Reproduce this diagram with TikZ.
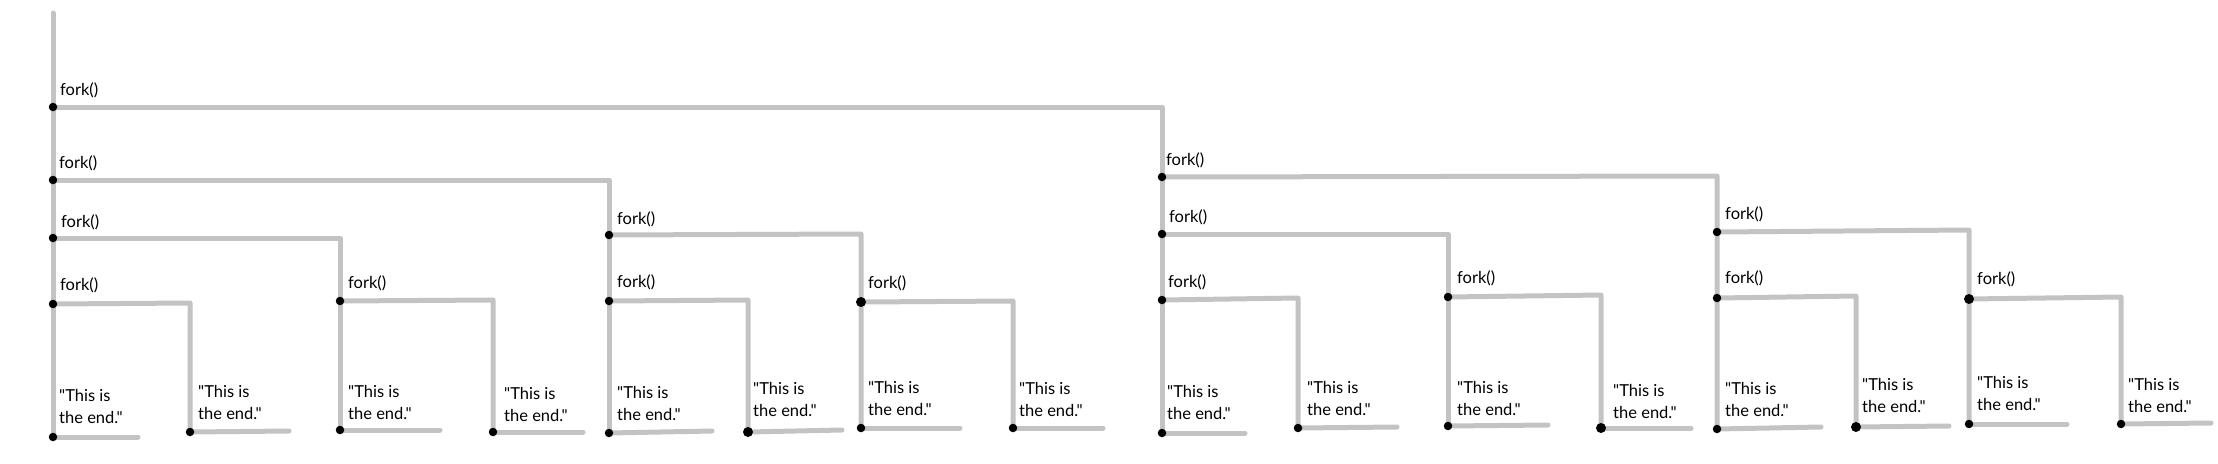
\documentclass[tikz,border=0pt]{standalone}
\usepackage{fontspec}
\setmainfont{Lato}[Ligatures=TeXOff]
\definecolor{wireg}{HTML}{C3C3C3}
\begin{document}
\begin{tikzpicture}[x=1pt,y=-1pt,
  wire/.style={draw=wireg, line width=5pt, line cap=round, line join=round},
  dot/.style={circle, fill=black, inner sep=0pt, minimum size=8.5pt},
  bigdot/.style={circle, fill=black, inner sep=0pt, minimum size=10pt},
  lbl/.style={anchor=west, inner sep=0pt, text=black, font=\fontsize{16.5}{22}\selectfont},
  endtxt/.style={lbl, align=left}]
\useasboundingbox (0,0) rectangle (2218,463);
% ---------- coordinates ----------
\coordinate (top) at (53,13);
\coordinate (f1) at (53,107);   \coordinate (c1) at (1162,107);
\coordinate (f2) at (53,180);   \coordinate (c2) at (609,180);
\coordinate (f3) at (53,238);   \coordinate (c3) at (340,238);
\coordinate (f4) at (53,304);   \coordinate (c4) at (190,303);
\coordinate (e1) at (53,437);   \coordinate (t1) at (138,437);
\coordinate (e2) at (190,432);  \coordinate (t2) at (289,431);
\coordinate (f5) at (340,301);  \coordinate (c5) at (493,300);
\coordinate (e3) at (340,430);  \coordinate (t3) at (440,430);
\coordinate (e4) at (493,432);  \coordinate (t4) at (583,432);
\coordinate (f6) at (609,235);  \coordinate (c6) at (861,234);
\coordinate (f7) at (609,301);  \coordinate (c7) at (748,300);
\coordinate (e5) at (609,433);  \coordinate (t5) at (712,431);
\coordinate (e6) at (748,432);  \coordinate (t6) at (842,430);
\coordinate (f8) at (861,302);  \coordinate (c8) at (1013,301);
\coordinate (e7) at (861,428);  \coordinate (t7) at (960,428);
\coordinate (e8) at (1013,428); \coordinate (t8) at (1103,428);
\coordinate (f9) at (1162,177); \coordinate (c9) at (1717,176);
\coordinate (f10) at (1162,234);\coordinate (c10) at (1448,234);
\coordinate (f11) at (1162,300);\coordinate (c11) at (1298,298);
\coordinate (e9) at (1162,433); \coordinate (t9) at (1245,433);
\coordinate (e10) at (1298,428);\coordinate (t10) at (1397,427);
\coordinate (f12) at (1448,297);\coordinate (c12) at (1601,295);
\coordinate (e11) at (1448,426);\coordinate (t11) at (1548,425);
\coordinate (e12) at (1601,428);\coordinate (t12) at (1691,428);
\coordinate (f13) at (1717,232);\coordinate (c13) at (1969,230);
\coordinate (f14) at (1717,298);\coordinate (c14) at (1856,296);
\coordinate (e13) at (1717,429);\coordinate (t13) at (1821,427);
\coordinate (e14) at (1856,427);\coordinate (t14) at (1949,426);
\coordinate (f15) at (1969,299);\coordinate (c15) at (2121,297);
\coordinate (e15) at (1969,424);\coordinate (t15) at (2067,424);
\coordinate (e16) at (2121,424);\coordinate (t16) at (2211,423);
% ---------- wires ----------
\draw[wire] (top) -- (e1);
\draw[wire] (f1) -- (c1) -- (e9);
\draw[wire] (f2) -- (c2) -- (e5);
\draw[wire] (f3) -- (c3) -- (e3);
\draw[wire] (f4) -- (c4) -- (e2);
\draw[wire] (f5) -- (c5) -- (e4);
\draw[wire] (f6) -- (c6) -- (e7);
\draw[wire] (f7) -- (c7) -- (e6);
\draw[wire] (f8) -- (c8) -- (e8);
\draw[wire] (f9) -- (c9) -- (e13);
\draw[wire] (f10) -- (c10) -- (e11);
\draw[wire] (f11) -- (c11) -- (e10);
\draw[wire] (f12) -- (c12) -- (e12);
\draw[wire] (f13) -- (c13) -- (e15);
\draw[wire] (f14) -- (c14) -- (e14);
\draw[wire] (f15) -- (c15) -- (e16);
\foreach \i in {1,...,16} { \draw[wire] (e\i) -- (t\i); }
% ---------- dots ----------
\foreach \p in {f1,f2,f3,f4,f5,f6,f7,f9,f10,f11,f12,f13,f14,
                e1,e2,e3,e4,e5,e7,e8,e9,e10,e11,e13,e15,e16}
  { \node[dot] (d-\p) at (\p) {}; }
\foreach \p in {f8,f15,e6,e12,e14}
  { \node[bigdot] (d-\p) at (\p) {}; }
% ---------- fork labels ----------
\node[lbl] (l1) at (60,90) {fork()};
\node[lbl] (l2) at (59,163) {fork()};
\node[lbl] (l3) at (61,222) {fork()};
\node[lbl] (l4) at (60,285) {fork()};
\node[lbl] (l5) at (348,283) {fork()};
\node[lbl] (l6) at (617,219) {fork()};
\node[lbl] (l7) at (617,282) {fork()};
\node[lbl] (l8) at (868,283) {fork()};
\node[lbl] (l9) at (1166,160) {fork()};
\node[lbl] (l10) at (1169,217) {fork()};
\node[lbl] (l11) at (1168,282) {fork()};
\node[lbl] (l12) at (1457,278) {fork()};
\node[lbl] (l13) at (1725,214) {fork()};
\node[lbl] (l14) at (1725,278) {fork()};
\node[lbl] (l15) at (1977,279) {fork()};
% ---------- end texts ----------
\node[endtxt] (x1) at (59,406) {"This is\\the end."};
\node[endtxt] (x2) at (198,402) {"This is\\the end."};
\node[endtxt] (x3) at (348,402) {"This is\\the end."};
\node[endtxt] (x4) at (504,404) {"This is\\the end."};
\node[endtxt] (x5) at (617,403) {"This is\\the end."};
\node[endtxt] (x6) at (753,399) {"This is\\the end."};
\node[endtxt] (x7) at (868,398) {"This is\\the end."};
\node[endtxt] (x8) at (1019,399) {"This is\\the end."};
\node[endtxt] (x9) at (1167,402) {"This is\\the end."};
\node[endtxt] (x10) at (1307,398) {"This is\\the end."};
\node[endtxt] (x11) at (1457,398) {"This is\\the end."};
\node[endtxt] (x12) at (1613,401) {"This is\\the end."};
\node[endtxt] (x13) at (1725,399) {"This is\\the end."};
\node[endtxt] (x14) at (1862,395) {"This is\\the end."};
\node[endtxt] (x15) at (1977,393) {"This is\\the end."};
\node[endtxt] (x16) at (2128,395) {"This is\\the end."};
\end{tikzpicture}
\end{document}
